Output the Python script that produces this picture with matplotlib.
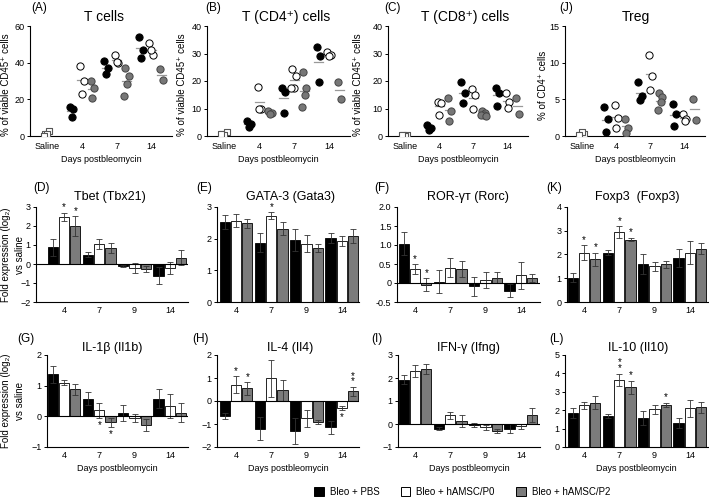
import matplotlib
matplotlib.use("Agg")
import matplotlib.pyplot as plt
from matplotlib.patches import Patch
import numpy as np

plt.rcParams['font.family'] = ['Liberation Sans', 'DejaVu Sans']
plt.rcParams['axes.linewidth'] = 0.8

# ---------------- data ----------------
scatter_ticks = ["Saline", "4", "7", "14"]
bar_ticks = ["4", "7", "9", "14"]
group_labels = ["Bleo + PBS", "Bleo + hAMSC/P0", "Bleo + hAMSC/P2"]

# scatter panels: values per day (4, 7, 14)
tcell_saline = [1.0, 2.7, 1.3, 0.2]
tcell_pbs = [[16, 14.7, 10.5], [40.7, 37, 33.6], [53.8, 46.8, 42.6]]
tcell_p0 = [[38, 30, 23], [44.4, 39.8, 40.2], [50.5, 44, 47]]
tcell_p2 = [[30, 26, 21], [37, 32.5, 28.4, 21.7], [36.7, 30.3]]

cd4_saline = [0.6, 1.6, 0.3, 0.9]
cd4_pbs = [[5.6, 4.3, 3.3], [17.5, 16, 8.2], [32.4, 29, 19.8]]
cd4_p0 = [[17.7, 9.8, 9.9], [24.2, 22, 17.6, 17.5], [30.4, 29.6, 29]]
cd4_p2 = [[9.2, 8.5, 8.0], [23.2, 17.5, 15, 10.4], [19.8, 13.5]]

cd8_saline = [0.2, 0.4, 0.1, 0.3]
cd8_pbs = [[4, 3, 2.1], [19.8, 15.5, 12], [17.5, 15.7, 11]]
cd8_p0 = [[12.4, 12, 7.8], [17.1, 15, 9.8], [15.5, 12.5, 10.2]]
cd8_p2 = [[14, 9, 5.5], [9.2, 8.5, 7.6, 7.5, 7.4], [13.7, 8]]

treg_saline = [0.1, 0.3, 0.5, 0.2]
treg_pbs = [[3.9, 2.3, 0.55], [7.3, 5.5, 4.9], [4.3, 3.0, 1.4]]
treg_p0 = [[4.2, 2.5, 1.05], [11, 8.2, 6.3], [3.0, 2.3, 2.0]]
treg_p2 = [[2.3, 1.15, 0.46], [5.8, 5.3, 4.6, 3.6], [5.1, 2.2]]

# bar panels: rows = PBS, P0, P2 ; columns = day 4, 7, 9, 14
tbet_mean = [[0.88, 0.5, -0.12, -0.62], [2.47, 1.05, -0.2, -0.2], [2.0, 0.85, -0.25, 0.33]]
tbet_err = [[0.45, 0.15, 0.05, 0.45], [0.22, 0.27, 0.25, 0.3], [0.5, 0.25, 0.15, 0.4]]
gata3_mean = [[2.54, 1.87, 1.97, 2.02], [2.57, 2.73, 1.84, 1.93], [2.48, 2.32, 1.7, 2.07]]
gata3_err = [[0.22, 0.3, 0.35, 0.17], [0.2, 0.1, 0.27, 0.15], [0.15, 0.22, 0.13, 0.22]]
rorc_mean = [[1.03, 0.03, -0.08, -0.2], [0.37, 0.4, 0.08, 0.2], [-0.05, 0.37, 0.14, 0.13]]
rorc_err = [[0.3, 0.3, 0.25, 0.17], [0.12, 0.25, 0.2, 0.35], [0.17, 0.2, 0.14, 0.1]]
foxp3_mean = [[1.03, 2.08, 1.6, 1.85], [2.08, 2.93, 1.5, 2.08], [1.8, 2.63, 1.58, 2.25]]
foxp3_err = [[0.2, 0.1, 0.4, 0.38], [0.3, 0.25, 0.2, 0.5], [0.27, 0.08, 0.15, 0.23]]
il1b_mean = [[1.37, 0.58, 0.11, 0.58], [1.1, 0.2, -0.05, 0.34], [0.88, -0.2, -0.28, 0.12]]
il1b_err = [[0.28, 0.2, 0.27, 0.3], [0.07, 0.25, 0.12, 0.4], [0.18, 0.15, 0.2, 0.3]]
il4_mean = [[-0.65, -1.2, -1.3, -1.15], [0.7, 0.98, -0.75, -0.3], [0.55, 0.47, -0.9, 0.42]]
il4_err = [[0.12, 0.5, 0.55, 0.3], [0.37, 0.8, 0.38, 0.1], [0.27, 0.45, 0.08, 0.2]]
ifng_mean = [[1.93, -0.2, -0.05, -0.2], [2.3, 0.37, -0.15, -0.1], [2.4, 0.14, -0.3, 0.4]]
ifng_err = [[0.2, 0.05, 0.08, 0.2], [0.25, 0.15, 0.1, 0.1], [0.22, 0.27, 0.1, 0.3]]
il10_mean = [[1.85, 1.67, 1.55, 1.31], [2.27, 3.64, 2.04, 2.1], [2.4, 3.24, 2.27, 2.15]]
il10_err = [[0.25, 0.1, 0.38, 0.27], [0.2, 0.35, 0.25, 0.45], [0.35, 0.35, 0.12, 0.3]]

# significance marks: (group, day index, count, direction)
tbet_sig = [(1, 0, 1, 1), (2, 0, 1, 1)]
gata3_sig = [(1, 1, 1, 1)]
rorc_sig = [(1, 0, 1, 1), (2, 0, 1, 1)]
foxp3_sig = [(1, 0, 1, 1), (2, 0, 1, 1), (1, 1, 1, 1), (2, 1, 1, 1)]
il1b_sig = [(1, 1, 1, -1), (2, 1, 1, -1)]
il4_sig = [(1, 0, 1, 1), (2, 0, 1, 1), (1, 3, 1, -1), (2, 3, 2, 1)]
ifng_sig = []
il10_sig = [(1, 1, 2, 1), (2, 1, 1, 1), (2, 2, 1, 1)]

# ---------------- style ----------------
W, H = 709, 500
fig = plt.figure(figsize=(W / 100, H / 100), dpi=100)
BAR_COLORS = ["black", "white", "#7b7b7b"]
FS_TICK = 6.5
FS_LAB = 7


def add_ax(l, t, r, b):
    return fig.add_axes([l / W, 1 - b / H, (r - l) / W, (b - t) / H])


def style(ax):
    for s in ["top", "right"]:
        ax.spines[s].set_visible(False)
    ax.tick_params(labelsize=FS_TICK, length=2.5, width=0.7, pad=1.5)


def letter(x, y, s):
    fig.text(x / W, 1 - y / H, s, fontsize=8.5, ha="left", va="center")


def title(x, y, s, fs):
    fig.text(x / W, 1 - y / H, s, fontsize=fs, ha="center", va="center")


def vlabel(x, y, s):
    fig.text(x / W, 1 - y / H, s, rotation=90, ha="center", va="center", fontsize=FS_LAB)


def scatter_panel(box, saline, pbs, p0, p2, ymax, yticks, ylabel, ttl, lab, tpos, lpos, ylx):
    ax = add_ax(*box)
    style(ax)
    offs = [-0.3, 0.0, 0.3]
    jit = [-0.05, 0.05, 0.0, -0.08, 0.08]
    for i, v in enumerate(saline):
        ax.scatter(0 + jit[i % 5] * 1.2, v, marker="s", s=22, facecolor="white",
                   edgecolor="#555555", linewidth=0.8, zorder=3)
    ax.plot([-0.12, 0.12], [np.mean(saline)] * 2, color="#999999", lw=0.9, zorder=2)
    for gi, (grp, fc) in enumerate(zip([pbs, p0, p2], ["black", "white", "#777777"])):
        for di, vals in enumerate(grp):
            xc = di + 1 + offs[gi]
            for k, v in enumerate(vals):
                ax.scatter(xc + jit[k % 5], v, s=27, facecolor=fc,
                           edgecolor="#444444" if gi == 2 else "black", linewidth=0.7, zorder=3)
            ax.plot([xc - 0.13, xc + 0.13], [np.mean(vals)] * 2, color="#999999", lw=0.9, zorder=2)
    ax.set_xlim(-0.5, 3.6)
    ax.set_ylim(0, ymax)
    ax.set_yticks(yticks)
    ax.set_xticks(range(4))
    ax.set_xticklabels(scatter_ticks)
    ax.tick_params(axis="x", length=0, pad=4)
    ax.set_xlabel("Days postbleomycin", fontsize=FS_TICK, labelpad=3)
    vlabel(ylx, (box[1] + box[3]) / 2 + 4, ylabel)
    title(tpos[0], tpos[1], ttl, 10)
    letter(lpos[0], lpos[1], lab)
    return ax


def bar_panel(box, c0, means, errs, sigs, ylim, yticks, ttl, lab, tpos, lpos, xlabel=False, fmt=None):
    ax = add_ax(*box)
    style(ax)
    l, t, r, b = box
    sp = 35.3
    ax.set_xlim((l - c0) / sp, (r - c0) / sp)
    ax.set_ylim(*ylim)
    x = np.arange(4)
    offs = [-0.32, 0.0, 0.32]
    for gi in range(3):
        ax.bar(x + offs[gi], means[gi], width=0.29, color=BAR_COLORS[gi], edgecolor="black",
               linewidth=0.6, zorder=2)
        ax.errorbar(x + offs[gi], means[gi], yerr=errs[gi], fmt="none", ecolor="#333333",
                    elinewidth=0.6, capsize=2.2, capthick=0.6, zorder=3)
    if ylim[0] < 0:
        ax.axhline(0, color="black", lw=0.8, zorder=4)
    rng = ylim[1] - ylim[0]
    for gi, di, cnt, d in sigs:
        m, e = means[gi][di], errs[gi][di]
        s = "\n".join(["*"] * cnt)
        if d > 0:
            ax.text(di + offs[gi], m + e + 0.005 * rng, s, ha="center", va="bottom", fontsize=7,
                    linespacing=0.45, zorder=5)
        else:
            ax.text(di + offs[gi], m - e - 0.02 * rng, s, ha="center", va="top", fontsize=7,
                    linespacing=0.45, zorder=5)
    ax.set_yticks(yticks)
    if fmt:
        ax.set_yticklabels([fmt(v) for v in yticks])
    ax.set_xticks(x)
    ax.set_xticklabels(bar_ticks)
    ax.tick_params(axis="x", length=0, pad=3)
    if xlabel:
        ax.set_xlabel("Days postbleomycin", fontsize=FS_TICK, labelpad=3)
    title(tpos[0], tpos[1], ttl, 9)
    letter(lpos[0], lpos[1], lab)
    return ax


# ---------------- row 1 ----------------
ylab1 = "% of viable CD45\u207a cells"
scatter_panel((30, 26, 172, 136), tcell_saline, tcell_pbs, tcell_p0, tcell_p2, 60, [0, 20, 40, 60],
              ylab1, "T cells", "(A)", (104, 17), (31, 8), 6)
scatter_panel((207, 26, 350, 136), cd4_saline, cd4_pbs, cd4_p0, cd4_p2, 40, [0, 10, 20, 30, 40],
              ylab1, "T (CD4\u207a) cells", "(B)", (286, 17), (205, 8), 182)
scatter_panel((388, 26, 528, 136), cd8_saline, cd8_pbs, cd8_p0, cd8_p2, 40, [0, 10, 20, 30, 40],
              ylab1, "T (CD8\u207a) cells", "(C)", (465, 17), (384, 8), 358)
scatter_panel((565, 26, 705, 136), treg_saline, treg_pbs, treg_p0, treg_p2, 15, [0, 5, 10, 15],
              "% of CD4\u207a cells", "Treg", "(J)", (636, 17), (559, 8), 543)

# ---------------- row 2 ----------------
bar_panel((36, 207, 188, 302), 64, tbet_mean, tbet_err, tbet_sig, (-2, 3), [-2, -1, 0, 1, 2, 3],
          "Tbet (Tbx21)", "(D)", (110, 197), (33, 188))
bar_panel((217, 207, 359, 302), 236, gata3_mean, gata3_err, gata3_sig, (0, 3), [0, 1, 2, 3],
          "GATA-3 (Gata3)", "(E)", (290, 197), (196, 188))
bar_panel((397, 207, 540, 302), 415, rorc_mean, rorc_err, rorc_sig, (-0.5, 2.0),
          [-0.5, 0, 0.5, 1.0, 1.5, 2.0], "ROR-\u03b3\u0442 (Rorc)", "(F)", (468, 197), (374, 188),
          fmt=lambda v: "0" if v == 0 else f"{v:.1f}")
bar_panel((567, 207, 708, 302), 584, foxp3_mean, foxp3_err, foxp3_sig, (0, 4), [0, 1, 2, 3, 4],
          "Foxp3  (Foxp3)", "(K)", (637, 197), (546, 188))

# ---------------- row 3 ----------------
bar_panel((47, 355, 188, 447), 64, il1b_mean, il1b_err, il1b_sig, (-1, 2), [-1, 0, 1, 2],
          "IL-1\u03b2 (Il1b)", "(G)", (112, 348), (17, 339), xlabel=True)
bar_panel((217, 355, 359, 447), 236, il4_mean, il4_err, il4_sig, (-2, 2), [-2, -1, 0, 1, 2],
          "IL-4 (Il4)", "(H)", (290, 348), (192, 339), xlabel=True)
bar_panel((398, 355, 540, 447), 415, ifng_mean, ifng_err, ifng_sig, (-1, 3), [-1, 0, 1, 2, 3],
          "IFN-\u03b3 (Ifng)", "(I)", (468, 348), (371, 339), xlabel=True)
bar_panel((565, 355, 708, 447), 584, il10_mean, il10_err, il10_sig, (0, 5), [0, 1, 2, 3, 4, 5],
          "IL-10 (Il10)", "(L)", (638, 348), (549, 339), xlabel=True)

# shared y labels for bar rows
for yc in [(207 + 302) / 2, (355 + 447) / 2]:
    vlabel(6, yc, "Fold expression (log\u2082)")
    vlabel(20, yc, "vs saline")

# legend
handles = [Patch(facecolor=c, edgecolor="black", linewidth=0.7) for c in BAR_COLORS]
fig.legend(handles, group_labels, loc="center", bbox_to_anchor=(462 / W, 1 - 492 / H), ncol=3,
           frameon=False, fontsize=FS_TICK + 0.5, handlelength=1.0, handleheight=1.0,
           columnspacing=2.2, handletextpad=0.6)

fig.savefig("out.png", dpi=100)
